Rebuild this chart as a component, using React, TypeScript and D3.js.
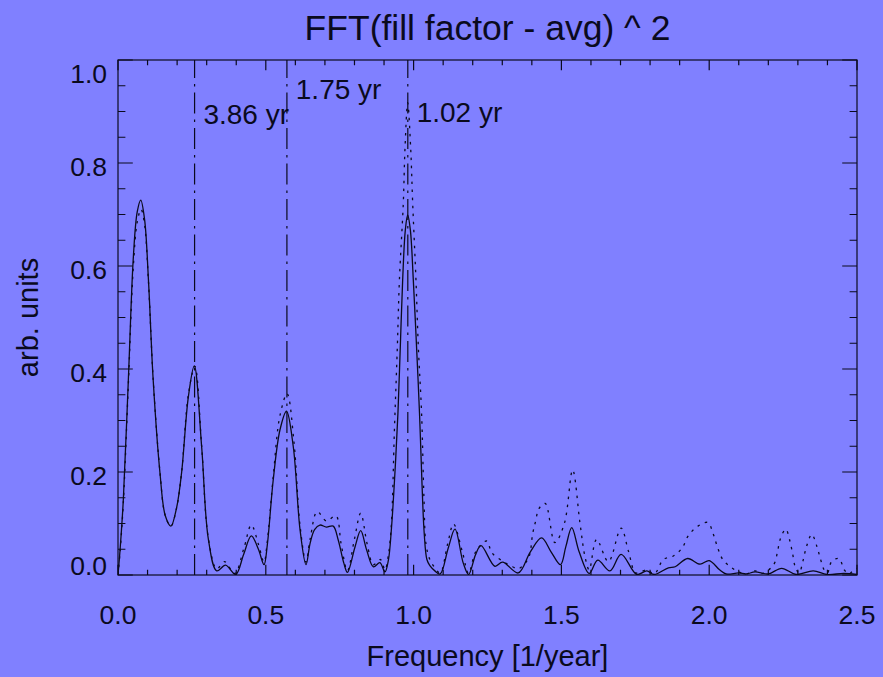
import React from "react";
import * as d3 from "d3";

// ---- Data ----
const solidFreq = [
  0, 0.007, 0.018, 0.035, 0.052, 0.065, 0.077, 0.09, 0.103, 0.119, 0.142, 0.16, 0.179, 0.198, 0.215, 0.238,
  0.258, 0.283, 0.306, 0.334, 0.364, 0.398, 0.425, 0.451, 0.475, 0.494, 0.505, 0.525, 0.548, 0.57, 0.593,
  0.616, 0.636, 0.65, 0.665, 0.683, 0.705, 0.728, 0.745, 0.764, 0.776, 0.802, 0.821, 0.841, 0.864, 0.886,
  0.903, 0.915, 0.925, 0.937, 0.947, 0.955, 0.963, 0.972, 0.98, 0.989, 0.999, 1.01, 1.02, 1.028, 1.036,
  1.045, 1.055, 1.072, 1.09, 1.117, 1.14, 1.168, 1.186, 1.21, 1.228, 1.275, 1.301, 1.354, 1.395, 1.433,
  1.465, 1.497, 1.515, 1.535, 1.56, 1.594, 1.623, 1.664, 1.702, 1.755, 1.789, 1.814, 1.862, 1.885, 1.927,
  1.969, 2.0, 2.035, 2.057, 2.1, 2.125, 2.155, 2.2, 2.245, 2.294, 2.352, 2.398, 2.455, 2.5,
];
const solidPower = [
  0, 0.049, 0.146, 0.379, 0.618, 0.705, 0.728, 0.69, 0.573, 0.379, 0.198, 0.115, 0.095, 0.13, 0.198, 0.346,
  0.406, 0.249, 0.068, 0.008, 0.019, 0.001, 0.04, 0.076, 0.05, 0.02, 0.058, 0.184, 0.282, 0.318, 0.249,
  0.087, 0.02, 0.062, 0.088, 0.097, 0.093, 0.095, 0.068, 0.023, 0.005, 0.055, 0.086, 0.049, 0.016, 0.024,
  0.006, 0.03, 0.09, 0.2, 0.314, 0.443, 0.573, 0.67, 0.699, 0.67, 0.573, 0.443, 0.314, 0.184, 0.08,
  0.03, 0.018, 0.008, 0.002, 0.052, 0.089, 0.023, 0.001, 0.04, 0.057, 0.017, 0.025, 0.004, 0.045, 0.072,
  0.045, 0.02, 0.055, 0.092, 0.045, 0.003, 0.029, 0.008, 0.04, 0.001, 0.008, 0.001, 0.014, 0.016, 0.032,
  0.021, 0.028, 0.01, 0.002, 0.004, 0.002, 0.006, 0.002, 0.013, 0.001, 0.008, 0.001, 0.003, 0.001,
];

const dottedFreq = [
  0, 0.007, 0.018, 0.035, 0.052, 0.065, 0.078, 0.09, 0.103, 0.119, 0.142, 0.16, 0.179, 0.198, 0.215, 0.238,
  0.26, 0.283, 0.306, 0.334, 0.36, 0.395, 0.425, 0.451, 0.475, 0.494, 0.505, 0.525, 0.548, 0.572, 0.595,
  0.616, 0.636, 0.65, 0.674, 0.705, 0.737, 0.755, 0.776, 0.8, 0.821, 0.843, 0.864, 0.888, 0.903, 0.915,
  0.925, 0.935, 0.945, 0.952, 0.965, 0.971, 0.98, 0.99, 0.997, 1.008, 1.016, 1.027, 1.035, 1.042, 1.055,
  1.072, 1.09, 1.115, 1.135, 1.165, 1.186, 1.21, 1.247, 1.265, 1.301, 1.335, 1.354, 1.388, 1.403, 1.413,
  1.424, 1.445, 1.478, 1.51, 1.538, 1.563, 1.58, 1.594, 1.619, 1.659, 1.702, 1.727, 1.752, 1.789, 1.814,
  1.845, 1.879, 1.909, 1.929, 1.96, 1.995, 2.014, 2.028, 2.046, 2.076, 2.1, 2.125, 2.155, 2.18, 2.219,
  2.231, 2.24, 2.259, 2.273, 2.282, 2.291, 2.304, 2.318, 2.329, 2.347, 2.364, 2.375, 2.389, 2.4, 2.414,
  2.439, 2.457, 2.472, 2.49, 2.5,
];
const dottedPower = [
  0, 0.045, 0.14, 0.37, 0.6, 0.685, 0.71, 0.68, 0.57, 0.38, 0.2, 0.115, 0.095, 0.13, 0.198, 0.35,
  0.405, 0.25, 0.07, 0.012, 0.026, 0.003, 0.05, 0.097, 0.06, 0.025, 0.065, 0.19, 0.31, 0.352, 0.26,
  0.095, 0.025, 0.07, 0.123, 0.105, 0.115, 0.06, 0.008, 0.07, 0.12, 0.06, 0.02, 0.03, 0.01, 0.04,
  0.1, 0.28, 0.443, 0.573, 0.72, 0.83, 0.917, 0.83, 0.72, 0.573, 0.443, 0.314, 0.15, 0.06, 0.03,
  0.014, 0.004, 0.06, 0.099, 0.045, 0.003, 0.045, 0.066, 0.043, 0.027, 0.016, 0.012, 0.032, 0.081, 0.105,
  0.129, 0.139, 0.063, 0.1, 0.204, 0.1, 0.035, 0.01, 0.069, 0.026, 0.091, 0.046, 0.004, 0.01, 0.002,
  0.03, 0.037, 0.053, 0.076, 0.094, 0.102, 0.079, 0.054, 0.03, 0.014, 0.006, 0.002, 0.008, 0.003, 0.021,
  0.045, 0.069, 0.089, 0.066, 0.042, 0.016, 0.004, 0.029, 0.055, 0.079, 0.056, 0.034, 0.01, 0.004, 0.026,
  0.032, 0.01, 0.002, 0.01, 0.013,
];

const markedPeriods = [3.86, 1.75, 1.02]; // years
const markedLabels = ["3.86 yr", "1.75 yr", "1.02 yr"];
const markedLabelLevel = [0.875, 0.925, 0.88]; // label height in data units

const xMajorTicks = [0, 0.5, 1.0, 1.5, 2.0, 2.5];
const yMajorTicks = [0, 0.2, 0.4, 0.6, 0.8, 1.0];

const title = "FFT(fill factor - avg) ^ 2";
const xTitle = "Frequency [1/year]";
const yTitle = "arb. units";

// ---- Layout ----
const W = 883;
const H = 677;
const margin = { left: 118, right: 26, top: 60, bottom: 102 };
const BG = "#8080ff";
const INK = "#0a0a1e";
const FONT = "'Liberation Sans', Arial, Helvetica, sans-serif";

export default function App() {
  const x = d3.scaleLinear().domain([0, 2.5]).range([margin.left, W - margin.right]);
  const y = d3.scaleLinear().domain([0, 1]).range([H - margin.bottom, margin.top]);
  const [x0, x1] = x.range();
  const [y0, y1] = y.range(); // y0 bottom, y1 top

  const solid = d3.zip(solidFreq, solidPower) as [number, number][];
  const dotted = d3.zip(dottedFreq, dottedPower) as [number, number][];
  const line = d3
    .line<[number, number]>()
    .x((d) => x(d[0]))
    .y((d) => y(d[1]))
    .curve(d3.curveCatmullRom.alpha(0.5));

  const xMinor = d3.range(0, 2.5001, 0.1).filter((v) => !xMajorTicks.some((m) => Math.abs(m - v) < 1e-6));
  const yMinor = d3.range(0, 1.0001, 0.05).filter((v) => !yMajorTicks.some((m) => Math.abs(m - v) < 1e-6));

  const xMajLen = 10.3;
  const yMajLen = 14.8;

  const tickPath: string[] = [];
  xMajorTicks.forEach((v) => {
    const px = x(v);
    tickPath.push(`M${px},${y0}V${y0 - xMajLen}`, `M${px},${y1}V${y1 + xMajLen}`);
  });
  xMinor.forEach((v) => {
    const px = x(v);
    tickPath.push(`M${px},${y0}V${y0 - xMajLen / 2}`, `M${px},${y1}V${y1 + xMajLen / 2}`);
  });
  yMajorTicks.forEach((v) => {
    const py = y(v);
    tickPath.push(`M${x0},${py}H${x0 + yMajLen}`, `M${x1},${py}H${x1 - yMajLen}`);
  });
  yMinor.forEach((v) => {
    const py = y(v);
    tickPath.push(`M${x0},${py}H${x0 + yMajLen / 2}`, `M${x1},${py}H${x1 - yMajLen / 2}`);
  });

  const fmt = d3.format(".1f");
  const cx = (x0 + x1) / 2;
  const cy = (y0 + y1) / 2;

  return (
    <svg
      width={W}
      height={H}
      style={{ position: "absolute", left: 0, top: 0, display: "block" }}
      fontFamily={FONT}
    >
      <defs>
        <clipPath id="plotClip">
          <rect x={x0} y={y1} width={x1 - x0} height={y0 - y1} />
        </clipPath>
      </defs>
      <rect x={0} y={0} width={W} height={H} fill={BG} />

      {/* curves */}
      <g clipPath="url(#plotClip)">
        <path d={line(dotted) || ""} fill="none" stroke={INK} strokeWidth={1.3} strokeDasharray="2.5 5.5" />
        <path d={line(solid) || ""} fill="none" stroke={INK} strokeWidth={1.3} />
      </g>

      {/* marked periods */}
      {markedPeriods.map((p, i) => {
        const f = 1 / p;
        return (
          <g key={p}>
            <line
              x1={x(f)}
              x2={x(f)}
              y1={y0}
              y2={y1}
              stroke={INK}
              strokeWidth={1.2}
              strokeDasharray="21 6 2.5 6"
            />
            <text x={x(f + 0.03)} y={y(markedLabelLevel[i])} fontSize={28} fill={INK}>
              {markedLabels[i]}
            </text>
          </g>
        );
      })}

      {/* axes box & ticks */}
      <rect x={x0} y={y1} width={x1 - x0} height={y0 - y1} fill="none" stroke={INK} strokeWidth={1.2} />
      <path d={tickPath.join("")} stroke={INK} strokeWidth={1.2} fill="none" />

      {/* tick labels */}
      {xMajorTicks.map((v) => (
        <text key={"x" + v} x={x(v)} y={y0 + 49} fontSize={26.5} textAnchor="middle" fill={INK}>
          {fmt(v)}
        </text>
      ))}
      {yMajorTicks.map((v) => (
        <text
          key={"y" + v}
          x={x0 - 11}
          y={Math.min(Math.max(y(v) + 13, y1 + 23), y0)}
          fontSize={26.5}
          textAnchor="end"
          fill={INK}
        >
          {fmt(v)}
        </text>
      ))}

      {/* titles */}
      <text x={cx} y={40} fontSize={35.5} textAnchor="middle" fill={INK}>
        {title}
      </text>
      <text x={cx} y={666} fontSize={29} textAnchor="middle" fill={INK}>
        {xTitle}
      </text>
      <text
        transform={`translate(38,${cy}) rotate(-90)`}
        fontSize={29}
        textAnchor="middle"
        fill={INK}
      >
        {yTitle}
      </text>
    </svg>
  );
}
